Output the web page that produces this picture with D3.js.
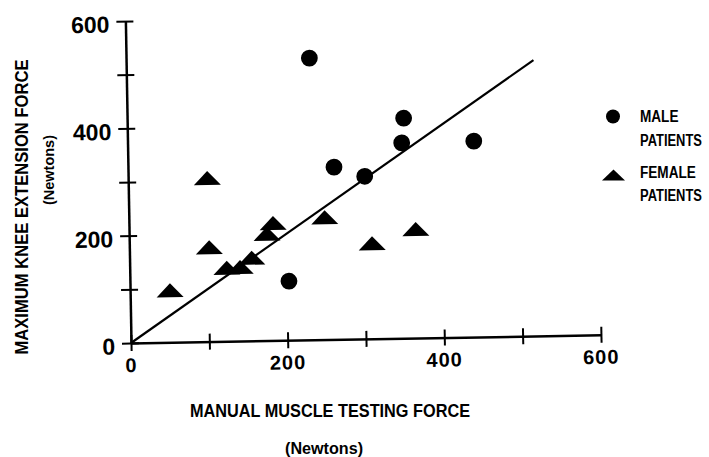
<!DOCTYPE html>
<html>
<head>
<meta charset="utf-8">
<script src="https://cdn.jsdelivr.net/npm/d3@7"></script>
<style>
  body { margin: 0; background: #fff; }
  text { font-family: "Liberation Sans", Arial, sans-serif; font-weight: bold; fill: #000; }
</style>
</head>
<body>
<svg id="svg" width="709" height="457"></svg>
<script>
// data (Newtons)
var maleX = [234, 353, 350, 442, 263, 302, 203]
var maleY = [525, 410, 364, 365, 321, 303, 110]
var femaleX = [51, 101, 102, 124, 141, 156, 176, 184, 250, 310, 366]
var femaleY = [97, 305, 176, 137, 138, 155, 199, 219, 228, 178, 203]
var fitX = [0, 520]
var fitY = [0, 514]
var tickValues = [0, 100, 200, 300, 400, 500, 600]
var tickLabels = [0, 200, 400, 600]

var svg = d3.select("svg")

var x = d3.scaleLinear().domain([0, 600]).range([0, 470])
var y = d3.scaleLinear().domain([0, 600]).range([0, -322])

// scan is tilted about a degree, so tilt the plot around the origin
var g = svg.append("g")
  .attr("transform", "translate(131,343) rotate(-1)")

// axes
var xAxis = g.append("g")
  .call(d3.axisBottom(x).tickValues(tickValues).tickSizeInner(8).tickSizeOuter(0).tickFormat(""))
xAxis.select(".domain").attr("stroke", "#000").attr("stroke-width", 2.5)
xAxis.selectAll(".tick line").attr("y1", -8).attr("stroke", "#000").attr("stroke-width", 2)

var yAxis = g.append("g")
  .call(d3.axisLeft(y).tickValues(tickValues).tickSizeInner(9).tickSizeOuter(0).tickFormat(""))
yAxis.select(".domain").attr("stroke", "#000").attr("stroke-width", 2.5)
yAxis.selectAll(".tick line").attr("x1", 8).attr("stroke", "#000").attr("stroke-width", 2)

// tick labels
g.selectAll(".ylab")
  .data(tickLabels)
  .enter().append("text")
  .attr("class", "ylab")
  .attr("x", -16)
  .attr("y", function(d) { return y(d) + 3 })
  .attr("dy", "0.36em")
  .attr("text-anchor", "end")
  .style("font-size", "23px")
  .text(function(d) { return d })

g.selectAll(".xlab")
  .data(tickLabels)
  .enter().append("text")
  .attr("class", "xlab")
  .attr("x", function(d) { return x(d) })
  .attr("y", 22)
  .attr("dy", "0.36em")
  .attr("text-anchor", "middle")
  .style("font-size", "20px")
  .style("letter-spacing", "1px")
  .text(function(d) { return d })

// fitted line
g.append("line")
  .attr("x1", x(fitX[0])).attr("y1", y(fitY[0]))
  .attr("x2", x(fitX[1])).attr("y2", y(fitY[1]))
  .attr("stroke", "#000").attr("stroke-width", 2.2)

function tri(w, h) {
  return "M" + (-w / 2) + "," + (h / 2) + "L" + (w / 2) + "," + (h / 2) + "L0," + (-h / 2) + "Z"
}

// male patients
g.selectAll(".male")
  .data(maleX)
  .enter().append("circle")
  .attr("class", "male")
  .attr("cx", function(d) { return x(d) })
  .attr("cy", function(d, i) { return y(maleY[i]) })
  .attr("r", 8.4)
  .attr("fill", "#000")

// female patients
g.selectAll(".female")
  .data(femaleX)
  .enter().append("path")
  .attr("class", "female")
  .attr("d", tri(27, 14))
  .attr("transform", function(d, i) { return "translate(" + x(d) + "," + y(femaleY[i]) + ")" })
  .attr("fill", "#000")

// axis titles
function label(cx, cy, str, size, len, rot) {
  svg.append("text")
    .attr("transform", "translate(" + cx + "," + cy + ")" + (rot ? " rotate(-90)" : ""))
    .attr("dy", "0.36em")
    .attr("text-anchor", "middle")
    .attr("textLength", len)
    .attr("lengthAdjust", "spacingAndGlyphs")
    .style("font-size", size + "px")
    .text(str)
}
label(22, 207, "MAXIMUM KNEE EXTENSION FORCE", 18, 295, true)
label(49, 170, "(Newtons)", 15, 70, true)
label(330, 410, "MANUAL MUSCLE TESTING FORCE", 19, 280, false)
label(324, 448, "(Newtons)", 16, 78, false)

// legend
svg.append("circle").attr("cx", 613).attr("cy", 116.5).attr("r", 7).attr("fill", "#000")
svg.append("path").attr("d", tri(23, 11)).attr("transform", "translate(613.5,175)").attr("fill", "#000")

// legend words are narrow in the scan, squeeze them horizontally
var legendText = ["MALE", "PATIENTS", "FEMALE", "PATIENTS"]
var legendY = [115.5, 140, 171.5, 194.5]
var legendScale = [0.8, 0.76, 0.8, 0.76]
svg.selectAll(".leg")
  .data(legendText)
  .enter().append("text")
  .attr("class", "leg")
  .attr("transform", function(d, i) { return "translate(640," + legendY[i] + ") scale(" + legendScale[i] + ",1)" })
  .attr("dy", "0.36em")
  .style("font-size", "17px")
  .text(function(d) { return d })
</script>
</body>
</html>
